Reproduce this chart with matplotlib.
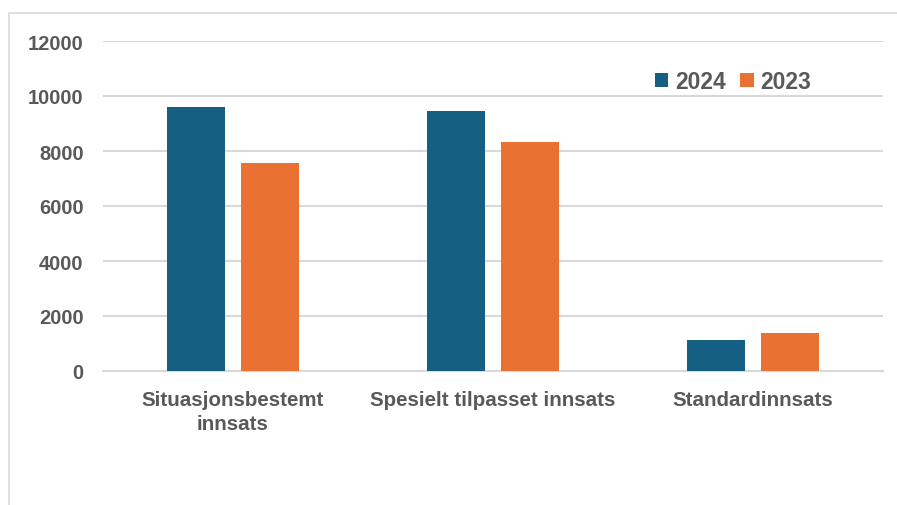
import numpy as np
import matplotlib.pyplot as plt
from matplotlib.patches import Rectangle

# Data
categories = ['Situasjonsbestemt\ninnsats', 'Spesielt tilpasset innsats', 'Standardinnsats']
values_2024 = [9600, 9460, 1130]
values_2023 = [7570, 8340, 1380]
yticks = [0, 2000, 4000, 6000, 8000, 10000, 12000]

blue = '#156082'
orange = '#E97132'
grid_col = '#D9D9D9'
text_col = '#595959'

plt.rcParams['font.family'] = ['Liberation Sans', 'DejaVu Sans']

W, H = 897, 506
fig = plt.figure(figsize=(W / 100, H / 100), dpi=100)

# chart border (cropped on right and bottom)
fig.add_artist(Rectangle((9 / W, -0.1), 1.2, 1 - 14 / H + 0.1, transform=fig.transFigure,
                         fill=False, edgecolor=grid_col, linewidth=1.2))

ax = fig.add_axes([103 / W, 1 - 372 / H, 780 / W, 330 / H])

x = np.arange(len(categories))
w = 0.223
off = 0.1423
ax.bar(x - off, values_2024, w, color=blue, label='2024', zorder=3)
ax.bar(x + off, values_2023, w, color=orange, label='2023', zorder=3)

ax.set_xlim(-0.5, 2.5)
ax.set_ylim(0, 12000)
ax.set_yticks(yticks)
ax.set_yticklabels([str(t) for t in yticks], fontsize=14.5, fontweight='bold', color=text_col)
ax.yaxis.grid(True, color=grid_col, linewidth=1.5, zorder=0)
ax.set_xticks(x)
ax.set_xticklabels(categories, fontsize=14.8, fontweight='bold', color=text_col, linespacing=1.3)
ax.tick_params(axis='both', length=0)
ax.tick_params(axis='y', pad=14)
ax.tick_params(axis='x', pad=14)
for s in ['top', 'right', 'left']:
    ax.spines[s].set_visible(False)
ax.spines['bottom'].set_color(grid_col)
ax.spines['bottom'].set_linewidth(1.5)

leg = ax.legend(loc='upper left', bbox_to_anchor=(531 / 780, 0.975), ncol=2, frameon=False,
                handlelength=0.6, handleheight=0.6, handletextpad=0.3, columnspacing=0.6,
                prop={'size': 16.5, 'weight': 'bold'})
for t in leg.get_texts():
    t.set_color(text_col)

fig.savefig('out.png', dpi=100)
